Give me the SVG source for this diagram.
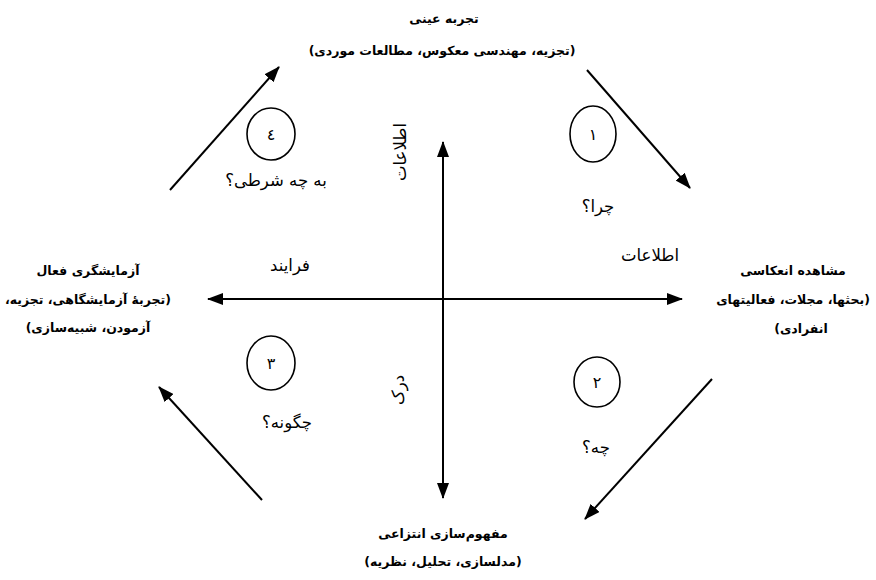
<svg xmlns="http://www.w3.org/2000/svg" width="876" height="580" viewBox="0 0 876 580">
<defs>
<marker id="ah" viewBox="0 0 16 12" refX="15" refY="6" markerWidth="16" markerHeight="12" markerUnits="userSpaceOnUse" orient="auto-start-reverse">
<path d="M0,0 L16,6 L0,12 z" fill="#000"/>
</marker>
<style>
.t{font-family:"DejaVu Sans",sans-serif;fill:#000;text-anchor:middle;direction:rtl}
.b{font-weight:bold;font-size:12.5px}
.r{font-size:16.5px}
.d{font-size:16px}
.c{fill:none;stroke:#000;stroke-width:1.6}
.ln{stroke:#000;stroke-width:2;fill:none}
</style>
</defs>
<rect width="876" height="580" fill="#fff"/>
<g id="connectors">
<line class="ln" x1="443" y1="142" x2="443" y2="498" marker-start="url(#ah)" marker-end="url(#ah)"/>
<line class="ln" x1="208" y1="299" x2="682" y2="299" stroke="#3b1414" marker-start="url(#ah)" marker-end="url(#ah)"/>
<line class="ln" x1="170" y1="190" x2="279" y2="67" marker-end="url(#ah)"/>
<line class="ln" x1="587" y1="70" x2="690" y2="188" marker-end="url(#ah)"/>
<line class="ln" x1="712" y1="379" x2="585" y2="519" marker-end="url(#ah)"/>
<line class="ln" x1="262" y1="500" x2="159" y2="387" marker-end="url(#ah)"/>
</g>
<g id="node-top">
<text class="t b" x="444" y="23">تجربه عینی</text>
<text class="t b" x="442" y="55">(تجزیه، مهندسی معکوس، مطالعات موردی)</text>
</g>
<g id="node-right">
<text class="t b" x="793" y="275">مشاهده انعکاسی</text>
<text class="t b" x="793" y="304">(بحثها، مجلات، فعالیتهای</text>
<text class="t b" x="801" y="333">انفرادی)</text>
</g>
<g id="node-bottom">
<text class="t b" x="443" y="538">مفهوم‌سازی انتزاعی</text>
<text class="t b" x="443" y="566">(مدلسازی، تحلیل، نظریه)</text>
</g>
<g id="node-left">
<text class="t b" x="88" y="275">آزمایشگری فعال</text>
<text class="t b" x="88" y="304">(تجربهٔ آزمایشگاهی، تجزیه،</text>
<text class="t b" x="88" y="332">آزمودن، شبیه‌سازی)</text>
</g>
<g id="q1">
<ellipse class="c" cx="593" cy="134" rx="23" ry="28"/>
<text class="t d" x="593" y="140">١</text>
<text class="t r" x="598" y="212">چرا؟</text>
</g>
<g id="q2">
<ellipse class="c" cx="597" cy="382" rx="23" ry="25"/>
<text class="t d" x="597" y="388">٢</text>
<text class="t r" x="596" y="453">چه؟</text>
</g>
<g id="q3">
<ellipse class="c" cx="271" cy="363" rx="24" ry="27"/>
<text class="t d" x="271" y="369">٣</text>
<text class="t r" x="287" y="428">چگونه؟</text>
</g>
<g id="q4">
<ellipse class="c" cx="271" cy="134" rx="24" ry="26"/>
<text class="t d" x="271" y="140">٤</text>
<text class="t r" x="276" y="186">به چه شرطی؟</text>
</g>
<g id="axis-labels">
<text class="t r" x="650" y="261">اطلاعات</text>
<text class="t r" x="290" y="271">فرایند</text>
<text class="t r" transform="translate(406,152) rotate(-90)">اطلاعات</text>
<text class="t r" transform="translate(404,390) rotate(-90)">درک</text>
</g>
</svg>
